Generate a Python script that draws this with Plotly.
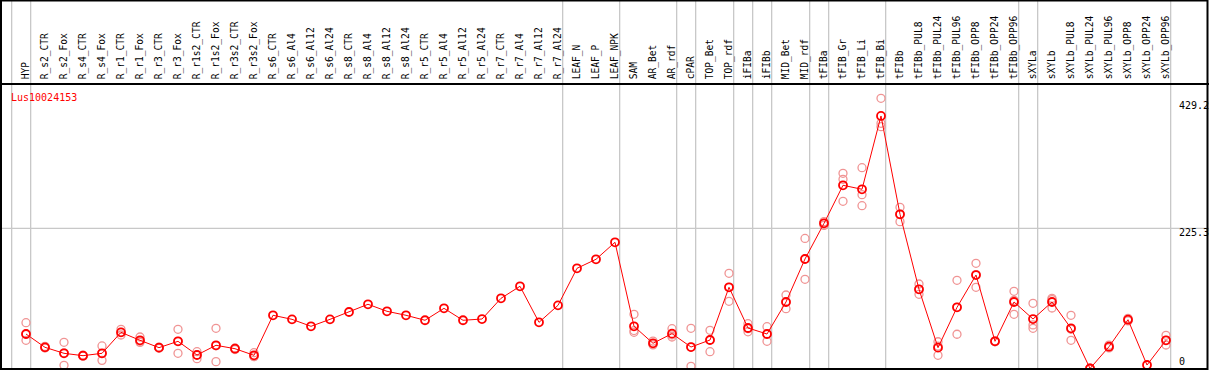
import plotly.graph_objects as go

categories = ["HYP", "R_s2_CTR", "R_s2_Fox", "R_s4_CTR", "R_s4_Fox", "R_r1_CTR", "R_r1_Fox",
              "R_r3_CTR", "R_r3_Fox", "R_r1s2_CTR", "R_r1s2_Fox", "R_r3s2_CTR", "R_r3s2_Fox",
              "R_s6_CTR", "R_s6_Al4", "R_s6_Al12", "R_s6_Al24", "R_s8_CTR", "R_s8_Al4", "R_s8_Al12",
              "R_s8_Al24", "R_r5_CTR", "R_r5_Al4", "R_r5_Al12", "R_r5_Al24", "R_r7_CTR", "R_r7_Al4",
              "R_r7_Al12", "R_r7_Al24", "LEAF_N", "LEAF_P", "LEAF_NPK", "SAM", "AR_Bet", "AR_rdf",
              "cPAR", "TOP_Bet", "TOP_rdf", "iFIBa", "iFIBb", "MID_Bet", "MID_rdf", "tFIBa",
              "tFIB_Gr", "tFIB_Li", "tFIB_Bi", "tFIBb", "tFIBb_PUL8", "tFIBb_PUL24", "tFIBb_PUL96",
              "tFIBb_OPP8", "tFIBb_OPP24", "tFIBb_OPP96", "sXYLa", "sXYLb", "sXYLb_PUL8",
              "sXYLb_PUL24", "sXYLb_PUL96", "sXYLb_OPP8", "sXYLb_OPP24", "sXYLb_OPP96"]

mean_values = [55.4, 34.0, 24.4, 20.6, 24.4, 58.1, 45.3, 33.5, 43.7, 21.7, 37.3, 31.8, 21.2,
               85.5, 79.0, 67.8, 79.0, 90.8, 103.2, 91.9, 85.5, 77.5, 96.7, 77.5, 79.5,
               112.8, 132.1, 74.2, 101.5, 161.0, 175.5, 202.8, 67.8, 40.5, 56.0, 34.5, 45.8,
               130.5, 65.1, 55.4, 106.9, 176.0, 233.3, 294.4, 288.0, 405.8, 247.8, 127.3, 33.5,
               98.3, 150.2, 43.7, 106.9, 79.5, 106.9, 64.6, 0.0, 35.0, 78.4, 5.6, 45.3]

N = None
rep1 = [73.6, 35.5, 42.1, 21.5, 36.2, 63.0, 50.6, 34.5, 63.0, 27.0, 64.6, 33.0, 25.4,
        N, N, N, N, N, N, N, N, N, N, N, N, N, N, N, N, N, N, N,
        87.1, 44.0, 64.0, 64.6, 61.4, 153.0, 72.0, 67.2, 118.1, 209.0, 230.0, 313.7, 322.7,
        434.2, 259.0, 135.8, 43.0, 141.7, 169.0, 44.5, 124.0, 104.8, 112.8, 85.5, 0.5, 37.5,
        80.5, N, 53.3]
rep2 = [55.0, 33.0, 5.1, 19.8, 13.1, 53.8, 44.0, 32.5, 24.4, 15.8, 11.0, 30.5, 19.0,
        N, N, N, N, N, N, N, N, N, N, N, N, N, N, N, N, N, N, N,
        58.2, 38.0, 50.6, 3.5, 27.0, 108.0, 59.0, 43.7, 96.1, 143.3, 236.0, 304.0, 279.3,
        394.0, 236.0, 119.2, 21.2, 55.0, 130.5, 43.0, 87.1, 70.0, 97.2, 45.3, 0.0, 33.0,
        76.5, N, 37.8]
rep3 = [45.3, 34.0, 25.0, 20.6, 24.0, 58.0, 42.0, 33.5, 43.7, 22.0, 36.5, 31.8, 19.5,
        N, N, N, N, N, N, N, N, N, N, N, N, N, N, N, N, N, N, N,
        61.0, 40.5, 54.0, 34.5, 45.8, 130.5, 64.0, 55.4, 106.9, 176.0, 233.3, 268.7, 261.6,
        388.6, 248.0, 127.0, 36.0, 98.3, 151.0, 43.7, 109.6, 64.6, 110.7, 63.0, 0.0, 34.5,
        78.4, N, 45.3]

# group separators: drawn just after these category indices
group_ends = [-1, 0, 28, 31, 34, 35, 37, 38, 39, 41, 42, 45, 52, 53, 60]
scale_labels = [0, 225.3, 429.2]
grid_value = 225.3
title_text = "Lus10024153"

W, H = 1209, 370
TOP = 85
PLOT_H = H - TOP
px_per_cat = 19.0
x0_px = 26.0
xr = [-x0_px / px_per_cat, (W - x0_px) / px_per_cat]
ppu = 0.6223
zero_px = 368.5
yr = [-(H - zero_px) / ppu, (zero_px - TOP) / ppu]

FONT = "DejaVu Sans Mono"
fig = go.Figure()

for reps in (rep1, rep2, rep3):
    fig.add_trace(go.Scatter(
        x=categories, y=reps, mode="markers",
        marker=dict(symbol="circle-open", size=8, color="#f09494", line=dict(width=1.3, color="#f09494")),
        hoverinfo="skip", showlegend=False))

fig.add_trace(go.Scatter(
    x=categories, y=mean_values, mode="lines+markers",
    line=dict(color="#ff0000", width=1),
    marker=dict(symbol="circle-open", size=8, color="#ff0000", line=dict(width=1.8, color="#ff0000")),
    showlegend=False))

top_paper = 1 + TOP / PLOT_H
shapes = []
for g in group_ends:
    shapes.append(dict(type="line", xref="x", yref="paper", x0=g + 0.245, x1=g + 0.245,
                       y0=0, y1=top_paper, line=dict(color="#c8c8c8", width=1.3), layer="below"))
shapes.append(dict(type="line", xref="paper", yref="y", x0=0, x1=1, y0=grid_value, y1=grid_value,
                   line=dict(color="#c8c8c8", width=1.3), layer="below"))
shapes.append(dict(type="rect", xref="paper", yref="paper",
                   x0=1 / W, x1=(W - 1.5) / W, y0=1 / PLOT_H, y1=(H - 0.5) / PLOT_H,
                   line=dict(color="black", width=2)))

annotations = [dict(text=title_text, xref="paper", yref="paper", x=9 / W, y=(H - 97) / PLOT_H,
                    xanchor="left", yanchor="middle", showarrow=False,
                    font=dict(family=FONT, size=10, color="#ff0000"))]
for v in scale_labels:
    shift = 7 if v == 0 else -4
    annotations.append(dict(text=str(v), xref="paper", yref="y", x=1177 / W, y=v,
                            xanchor="left", yanchor="middle", yshift=shift, showarrow=False,
                            font=dict(family=FONT, size=10, color="black")))

fig.update_layout(
    width=W, height=H, margin=dict(l=0, r=0, t=TOP, b=0),
    paper_bgcolor="white", plot_bgcolor="white",
    shapes=shapes, annotations=annotations,
    xaxis=dict(type="category", side="top", range=xr, tickangle=-90,
               tickfont=dict(family=FONT, size=9.6, color="black"),
               showgrid=False, zeroline=False, showline=True, linecolor="black", linewidth=1.5,
               ticks="", ticklen=0, ticklabelstandoff=2),
    yaxis=dict(range=yr, showgrid=False, zeroline=False, showticklabels=False, showline=False),
)

fig.write_html("out.html", config={"displayModeBar": False},
               post_script="document.body.style.margin='0';document.body.style.overflow='hidden';")
